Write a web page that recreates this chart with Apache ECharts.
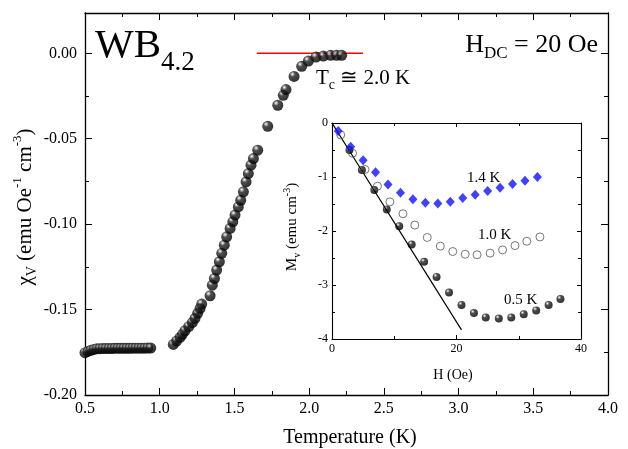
<!DOCTYPE html>
<html><head><meta charset="utf-8">
<script src="https://cdn.jsdelivr.net/npm/echarts@6/dist/echarts.min.js"></script>
<style>html,body{margin:0;padding:0;background:#fff}#c{width:628px;height:449px}</style>
</head><body><div id="c"></div>
<script>
// ---- main plot data: chi_V vs Temperature ----
var mainT = [0.50,0.52,0.54,0.56,0.58,0.60,0.62,0.64,0.66,0.68,0.70,0.72,0.74,0.76,0.78,0.80,0.82,0.84,0.86,0.88,0.90,0.92,0.94,
  1.091,1.113,1.136,1.152,1.169,1.194,1.218,1.236,1.254,1.270,1.281,1.337,1.352,1.366,1.381,1.399,1.415,1.432,1.448,1.471,1.489,1.504,1.526,1.542,1.560,1.578,1.593,1.611,1.627,1.656,1.723,1.790,1.827,1.845,1.899,1.950,1.995,2.046,2.095,2.144,2.184,2.218];
var mainChi = [-0.1752,-0.1745,-0.1738,-0.1733,-0.1730,-0.1729,-0.1728,-0.1728,-0.1728,-0.1728,-0.1727,-0.1727,-0.1727,-0.1727,-0.1727,-0.1727,-0.1726,-0.1726,-0.1726,-0.1726,-0.1726,-0.1725,-0.1725,
  -0.1704,-0.1684,-0.1663,-0.1645,-0.1624,-0.1600,-0.1577,-0.1552,-0.1522,-0.1493,-0.1468,-0.1419,-0.1357,-0.1318,-0.1269,-0.1220,-0.1171,-0.1123,-0.1074,-0.1025,-0.0986,-0.0947,-0.0899,-0.0860,-0.0811,-0.0753,-0.0704,-0.0655,-0.0616,-0.0567,-0.0427,-0.0304,-0.0246,-0.0212,-0.0135,-0.0076,-0.0045,-0.0022,-0.0016,-0.0012,-0.0012,-0.0012];
var tcLineT = [1.65, 2.36];
var tcLineChi = [0.0, 0.0];
var mainXTicks = [0.5,1.0,1.5,2.0,2.5,3.0,3.5,4.0];
var mainYTicks = [-0.20,-0.15,-0.10,-0.05,0.00];

// ---- inset data: M_v vs H ----
var h14 = [1,3,5,7,9,11,13,15,17,19,21,23,25,27,29,31,33];
var m14 = [-0.15,-0.44,-0.69,-0.91,-1.14,-1.29,-1.41,-1.475,-1.49,-1.46,-1.39,-1.33,-1.26,-1.20,-1.13,-1.07,-1.00];
var h10 = [1.4,3.3,5.3,7.3,9.3,11.4,13.3,15.3,17.4,19.4,21.4,23.3,25.4,27.4,29.4,31.3,33.4];
var m10 = [-0.22,-0.56,-0.86,-1.17,-1.46,-1.68,-1.89,-2.12,-2.28,-2.38,-2.43,-2.44,-2.41,-2.35,-2.27,-2.19,-2.11];
var h05 = [2.8,4.8,6.8,8.8,10.8,12.8,14.8,16.8,18.8,20.8,22.8,24.7,26.8,28.8,30.8,32.8,34.8,36.7];
var m05 = [-0.50,-0.87,-1.24,-1.60,-1.91,-2.25,-2.57,-2.85,-3.14,-3.37,-3.52,-3.60,-3.62,-3.60,-3.54,-3.47,-3.37,-3.26];
var meissnerH = [0, 20.8];
var meissnerM = [0, -3.83];
var insetXTicks = [0,20,40];
var insetYTicks = [-4,-3,-2,-1,0];

function pairs(a,b){ return a.map(function(v,i){ return [v,b[i]]; }); }
var FONT = "'Liberation Serif', 'Times New Roman', serif";
var chart = echarts.init(document.getElementById('c'));
function ball(){ return new echarts.graphic.RadialGradient(0.35,0.3,0.7,[
  {offset:0,color:'#ffffff'},{offset:0.12,color:'#b0b0b0'},{offset:0.35,color:'#202020'},{offset:1,color:'#000'}]); }
function near(v, arr){ for (var i=0;i<arr.length;i++){ if (Math.abs(v-arr[i])<1e-6) return true;} return false; }

function mkAxis(o, inset){
  var base = {
    type:'value',
    axisLine:{show:true,onZero:false,lineStyle:{color:'#000',width:inset?1.1:1.3}},
    axisTick:{inside:true,length:inset?4:7,lineStyle:{color:'#000'}},
    minorTick:{show:true,splitNumber:2,length:inset?3:4,lineStyle:{color:'#000'}},
    splitLine:{show:false}
  };
  for (var k in o) base[k]=o[k];
  return base;
}
chart.setOption({
  animation:false,
  backgroundColor:'#fff',
  grid:[
    {left:85,top:13,right:20,bottom:54,show:false},
    {left:332,top:123,right:47,bottom:110,show:true,backgroundColor:'#fff',borderWidth:0,z:5}
  ],
  xAxis:[
    mkAxis({gridIndex:0,position:'bottom',min:0.5,max:4.0,interval:0.5,
     axisLabel:{margin:6,fontFamily:FONT,fontSize:16,color:'#000',
       formatter:function(v){return near(v,mainXTicks)?v.toFixed(1):'';}}}),
    mkAxis({gridIndex:0,position:'top',min:0.5,max:4.0,interval:0.5,axisLabel:{show:false}}),
    mkAxis({gridIndex:1,position:'bottom',min:0,max:40,interval:20,z:6,
     axisLabel:{margin:4,fontFamily:FONT,fontSize:12,color:'#000',
       formatter:function(v){return near(v,insetXTicks)?String(v):'';}}},true),
    mkAxis({gridIndex:1,position:'top',min:0,max:40,interval:20,z:6,axisLabel:{show:false}},true)
  ],
  yAxis:[
    mkAxis({gridIndex:0,position:'left',min:-0.2,max:0.0236,interval:0.05,
     axisLabel:{margin:8,fontFamily:FONT,fontSize:16,color:'#000',showMaxLabel:false,
       formatter:function(v){return near(v,mainYTicks)?v.toFixed(2):'';}}}),
    mkAxis({gridIndex:0,position:'right',min:-0.2,max:0.0236,interval:0.05,axisLabel:{show:false}}),
    mkAxis({gridIndex:1,position:'left',min:-4,max:0,interval:1,z:6,
     axisLabel:{margin:4,fontFamily:FONT,fontSize:12,color:'#000',
       formatter:function(v){return near(v,insetYTicks)?String(v):'';}}},true),
    mkAxis({gridIndex:1,position:'right',min:-4,max:0,interval:1,z:6,axisLabel:{show:false}},true)
  ],
  series:[
    {type:'line',xAxisIndex:0,yAxisIndex:0,data:pairs(tcLineT,tcLineChi),symbol:'none',
     lineStyle:{color:'#ff0000',width:1.6},z:1},
    {type:'scatter',xAxisIndex:0,yAxisIndex:0,data:pairs(mainT,mainChi),symbol:'circle',symbolSize:11,
     itemStyle:{color:ball()},clip:false,z:2},
    {type:'scatter',xAxisIndex:2,yAxisIndex:2,data:pairs(h05,m05),symbol:'circle',symbolSize:8,
     itemStyle:{color:ball()},z:7},
    {type:'line',xAxisIndex:2,yAxisIndex:2,data:pairs(meissnerH,meissnerM),symbol:'none',
     lineStyle:{color:'#000',width:1.2},z:8},
    {type:'scatter',xAxisIndex:2,yAxisIndex:2,data:pairs(h10,m10),symbol:'circle',symbolSize:8,
     itemStyle:{color:'rgba(255,255,255,0)',borderColor:'#555',borderWidth:1},z:9},
    {type:'scatter',xAxisIndex:2,yAxisIndex:2,data:pairs(h14,m14),symbol:'diamond',symbolSize:[9,10],
     itemStyle:{color:'#1010ff'},z:10}
  ],
  graphic:[
    {type:'text',x:95,y:46,z:20,style:{text:'WB',fontFamily:FONT,fontSize:41,verticalAlign:'middle',fill:'#000'}},
    {type:'text',x:161,y:63,z:20,style:{text:'4.2',fontFamily:FONT,fontSize:27,verticalAlign:'middle',fill:'#000'}},
    {type:'text',x:598,y:45,z:20,style:{text:'{a|H}{b|DC}{a| = 20 Oe}',align:'right',verticalAlign:'middle',
      rich:{a:{fontFamily:FONT,fontSize:26,lineHeight:34},b:{fontFamily:FONT,fontSize:17,lineHeight:17,verticalAlign:'bottom'}}}},
    {type:'text',x:316,y:78,z:20,style:{text:'{a|T}{b|c}{a| \u2245 2.0 K}',verticalAlign:'middle',
      rich:{a:{fontFamily:FONT,fontSize:21,lineHeight:28},b:{fontFamily:FONT,fontSize:14,lineHeight:14,verticalAlign:'bottom'}}}},
    {type:'text',x:25,y:207,rotation:Math.PI/2,z:20,style:{text:'{a|\u03C7}{b|V}{a| (emu Oe}{c|-1}{a| cm}{c|-3}{a|)}',
      align:'center',verticalAlign:'middle',
      rich:{a:{fontFamily:FONT,fontSize:21,lineHeight:28},b:{fontFamily:FONT,fontSize:14,lineHeight:14,verticalAlign:'bottom'},c:{fontFamily:FONT,fontSize:13,lineHeight:13,verticalAlign:'top'}}}},
    {type:'text',x:350,y:438,z:20,style:{text:'Temperature (K)',fontFamily:FONT,fontSize:20,align:'center',verticalAlign:'middle'}},
    {type:'text',x:292,y:227,rotation:Math.PI/2,z:20,style:{text:'{a|M}{b|v}{a| (emu cm}{c|-3}{a|)}',
      align:'center',verticalAlign:'middle',
      rich:{a:{fontFamily:FONT,fontSize:15,lineHeight:20},b:{fontFamily:FONT,fontSize:10,lineHeight:10,verticalAlign:'bottom'},c:{fontFamily:FONT,fontSize:10,lineHeight:10,verticalAlign:'top'}}}},
    {type:'text',x:453,y:375,z:20,style:{text:'H (Oe)',fontFamily:FONT,fontSize:14,align:'center',verticalAlign:'middle'}},
    {type:'text',x:467,y:178,z:20,style:{text:'1.4 K',fontFamily:FONT,fontSize:15,verticalAlign:'middle'}},
    {type:'text',x:478,y:235,z:20,style:{text:'1.0 K',fontFamily:FONT,fontSize:15,verticalAlign:'middle'}},
    {type:'text',x:504,y:300,z:20,style:{text:'0.5 K',fontFamily:FONT,fontSize:15,verticalAlign:'middle'}}
  ]
});
</script></body></html>
